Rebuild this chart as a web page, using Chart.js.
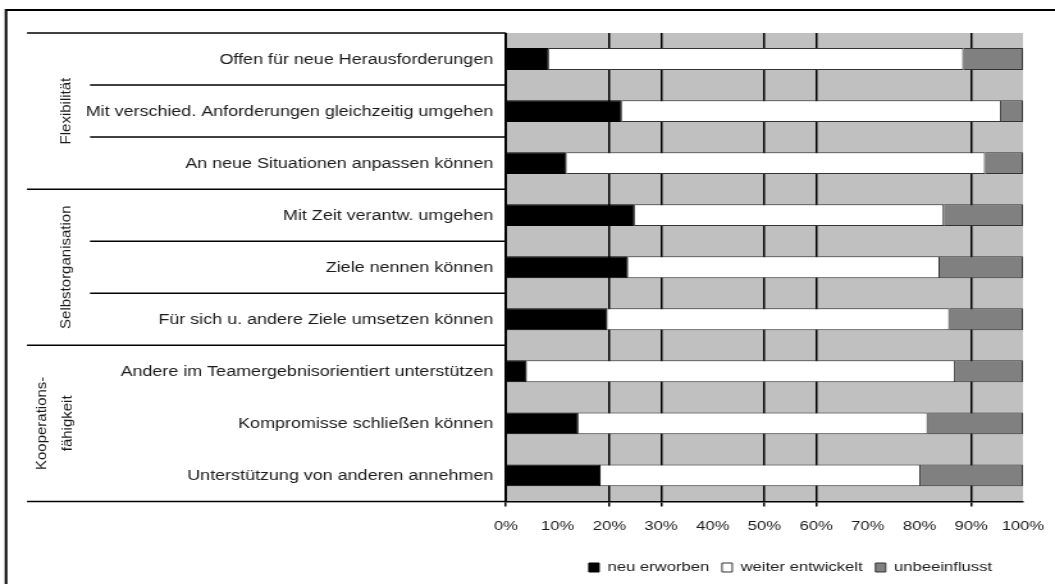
<!DOCTYPE html>
<html>
<head>
<meta charset="utf-8">
<script src="https://cdn.jsdelivr.net/npm/chart.js@4.4.1/dist/chart.umd.min.js"></script>
<style>
  html, body { margin: 0; padding: 0; background: #fff; overflow: hidden; }
  /* the scan is stretched sideways, so the chart is drawn narrow and widened */
  #wrap { width: 824px; height: 584px; transform: scaleX(1.2803); transform-origin: 0 0; }
</style>
</head>
<body>
<div id="wrap"><canvas id="myChart"></canvas></div>
<script>
var SX = 1055 / 824;

var categories = [
  'Offen für neue Herausforderungen',
  'Mit verschied. Anforderungen gleichzeitig umgehen',
  'An neue Situationen anpassen können',
  'Mit Zeit verantw. umgehen',
  'Ziele nennen können',
  'Für sich u. andere Ziele umsetzen können',
  'Andere im Teamergebnisorientiert unterstützen',
  'Kompromisse schließen können',
  'Unterstützung von anderen annehmen'
];
var neuErworben      = [8.3, 22.4, 11.7, 24.9, 23.6, 19.6, 4.0, 14.0, 18.3];
var weiterEntwickelt = [80.2, 73.4, 81.0, 59.8, 60.3, 66.2, 82.9, 67.6, 61.9];
var unbeeinflusst    = [11.5, 4.2, 7.3, 15.3, 16.1, 14.2, 13.1, 18.4, 19.8];

var groupNames = [['Flexibilität'], ['Selbstorganisation'], ['Kooperations-', 'fähigkeit']];
var groupSizes = [3, 3, 3];
var groupInnerLines = [true, true, false];

// only these grid lines survived in the original
var shownGrid = [0, 20, 30, 50, 60, 90];

var font = '"Liberation Sans", Arial, sans-serif';

function gridColor(c) {
  return shownGrid.indexOf(c.tick.value) >= 0 ? '#000' : 'rgba(0,0,0,0)';
}

var sideLabels = {
  id: 'sideLabels',
  afterLayout: function(chart) {
    // nudge the legend to the right, as in the original
    if (chart.legend) {
      chart.legend.left += 26 / SX;
      chart.legend.right += 26 / SX;
    }
  },
  beforeDraw: function(chart) {
    var ctx = chart.ctx, a = chart.chartArea;
    ctx.save();
    ctx.fillStyle = '#fff';
    ctx.fillRect(0, 0, chart.width, chart.height);
    ctx.fillStyle = '#c0c0c0';
    ctx.fillRect(a.left, a.top, a.right - a.left, a.bottom - a.top);
    ctx.restore();
  },
  afterDraw: function(chart) {
    var ctx = chart.ctx, a = chart.chartArea, y = chart.scales.y;
    var half = (y.getPixelForValue(1) - y.getPixelForValue(0)) / 2;
    ctx.save();
    ctx.fillStyle = '#1a1a1a';
    ctx.font = '14px ' + font;
    ctx.textAlign = 'right';
    ctx.textBaseline = 'middle';
    categories.forEach(function(c, i) {
      ctx.fillText(c, a.left - 10, y.getPixelForValue(i) + 1);
    });

    ctx.strokeStyle = '#000';
    ctx.lineWidth = 1.5;
    function hline(x0, yy) {
      ctx.beginPath();
      ctx.moveTo(x0, yy);
      ctx.lineTo(a.left, yy);
      ctx.stroke();
    }
    var start = 0;
    groupSizes.forEach(function(n, g) {
      var top = y.getPixelForValue(start) - half;
      var bottom = y.getPixelForValue(start + n - 1) + half;
      if (g === 0) hline(27 / SX, top);
      hline(27 / SX, bottom);
      if (groupInnerLines[g]) {
        for (var k = 1; k < n; k++) hline(90 / SX, y.getPixelForValue(start + k) - half);
      }
      var lines = groupNames[g];
      var cx = (66 - (lines.length - 1) * 11) / SX;
      ctx.save();
      ctx.translate(cx, (top + bottom) / 2);
      ctx.rotate(-Math.PI / 2);
      ctx.scale(1, 1 / SX);   // undo the sideways stretch for upright glyphs
      ctx.font = '15px ' + font;
      ctx.textAlign = 'center';
      ctx.textBaseline = 'middle';
      lines.forEach(function(t, j) {
        ctx.fillText(t, 0, (j - (lines.length - 1) / 2) * 25);
      });
      ctx.restore();
      start += n;
    });

    // axis line between labels and bars
    ctx.beginPath();
    ctx.moveTo(a.left, a.top);
    ctx.lineTo(a.left, a.bottom);
    ctx.stroke();

    // outer frame
    ctx.lineWidth = 2;
    ctx.beginPath();
    ctx.moveTo(6 / SX, chart.height);
    ctx.lineTo(6 / SX, 10);
    ctx.lineTo(chart.width, 10);
    ctx.stroke();
    ctx.restore();
  }
};

new Chart(document.getElementById('myChart'), {
  type: 'bar',
  data: {
    labels: categories,
    datasets: [
      { label: 'neu erworben', data: neuErworben, backgroundColor: '#000', borderColor: '#000', borderWidth: 1 },
      { label: 'weiter entwickelt', data: weiterEntwickelt, backgroundColor: '#fff', borderColor: '#333', borderWidth: 1 },
      { label: 'unbeeinflusst', data: unbeeinflusst, backgroundColor: '#808080', borderColor: '#333', borderWidth: 1 }
    ]
  },
  options: {
    indexAxis: 'y',
    responsive: true,
    maintainAspectRatio: false,
    animation: false,
    barPercentage: 0.42,
    categoryPercentage: 1,
    layout: { padding: { left: 506 / SX, right: 32 / SX, top: 33, bottom: 0 } },
    scales: {
      x: {
        stacked: true,
        min: 0,
        max: 100,
        ticks: {
          stepSize: 10,
          autoSkip: false,
          maxRotation: 0,
          padding: 12,
          color: '#1a1a1a',
          font: { family: font, size: 13 },
          callback: function(v) { return v + '%'; }
        },
        grid: {
          color: gridColor,
          tickColor: gridColor,
          lineWidth: 1.5,
          tickLength: 5
        },
        border: { display: true, color: '#000', width: 1.5 },
        afterFit: function(scale) {
          scale.height += 5;
          scale.paddingLeft = 0;
          scale.paddingRight = 0;
        }
      },
      y: { stacked: true, display: false }
    },
    plugins: {
      legend: {
        position: 'bottom',
        fullSize: false,
        labels: {
          boxWidth: 8,
          boxHeight: 9,
          padding: 10,
          color: '#1a1a1a',
          font: { family: font, size: 13 }
        }
      },
      tooltip: { enabled: false }
    }
  },
  plugins: [sideLabels]
});
</script>
</body>
</html>
